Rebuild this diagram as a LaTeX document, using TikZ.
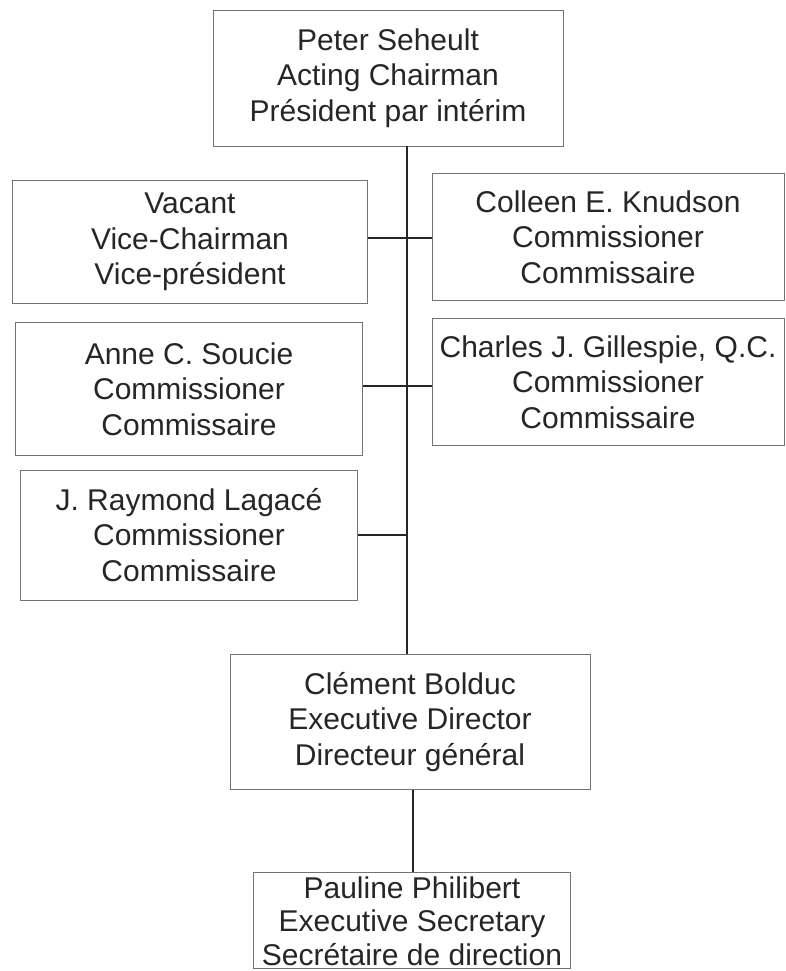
\documentclass[tikz,border=0pt]{standalone}
\usepackage{fontspec}
\setmainfont{Liberation Sans}
\begin{document}
\begin{tikzpicture}[x=1pt,y=-1pt,
  box/.style={draw=black!55, line width=0.6pt, align=center, inner sep=0pt,
    font=\fontsize{30}{35.5}\selectfont, text=black!85},
  conn/.style={line width=2.6pt, black!85}]
\useasboundingbox (0,0) rectangle (785,971);
\node[box, minimum width=350pt, minimum height=136pt] (top) at (388,78)
  {Peter Seheult\\Acting Chairman\\Président par intérim};
\node[box, minimum width=355pt, minimum height=123pt] (vacant) at (190,242)
  {Vacant\\Vice-Chairman\\Vice-président};
\node[box, minimum width=352pt, minimum height=127pt] (colleen) at (608,237)
  {Colleen E. Knudson\\Commissioner\\Commissaire};
\node[box, minimum width=347pt, minimum height=133pt] (anne) at (189,389)
  {Anne C. Soucie\\Commissioner\\Commissaire};
\node[box, minimum width=352pt, minimum height=127pt] (charles) at (608,382)
  {Charles J. Gillespie, Q.C.\\Commissioner\\Commissaire};
\node[box, minimum width=337pt, minimum height=130pt] (raymond) at (189,535)
  {J. Raymond Lagacé\\Commissioner\\Commissaire};
\node[box, minimum width=360pt, minimum height=135pt] (clement) at (410,722)
  {Clément Bolduc\\Executive Director\\Directeur général};
\node[box, minimum width=317pt, minimum height=96pt] (pauline) at (412,920) {};
\node[box, draw=none, font=\fontsize{30}{33.5}\selectfont] (paulinet) at (412,921)
  {Pauline Philibert\\Executive Secretary\\Secrétaire de direction};
\coordinate (spine) at (407,0);
\draw[conn] (top.south -| spine) -- (clement.north -| spine);
\draw[conn] (vacant.east |- 0,238) -- (colleen.west |- 0,238);
\draw[conn] (anne.east |- 0,386) -- (charles.west |- 0,386);
\draw[conn] (raymond.east) -- (raymond.east -| spine);
\draw[conn] (clement.south -| 413,0) -- (pauline.north -| 413,0);
\end{tikzpicture}
\end{document}
